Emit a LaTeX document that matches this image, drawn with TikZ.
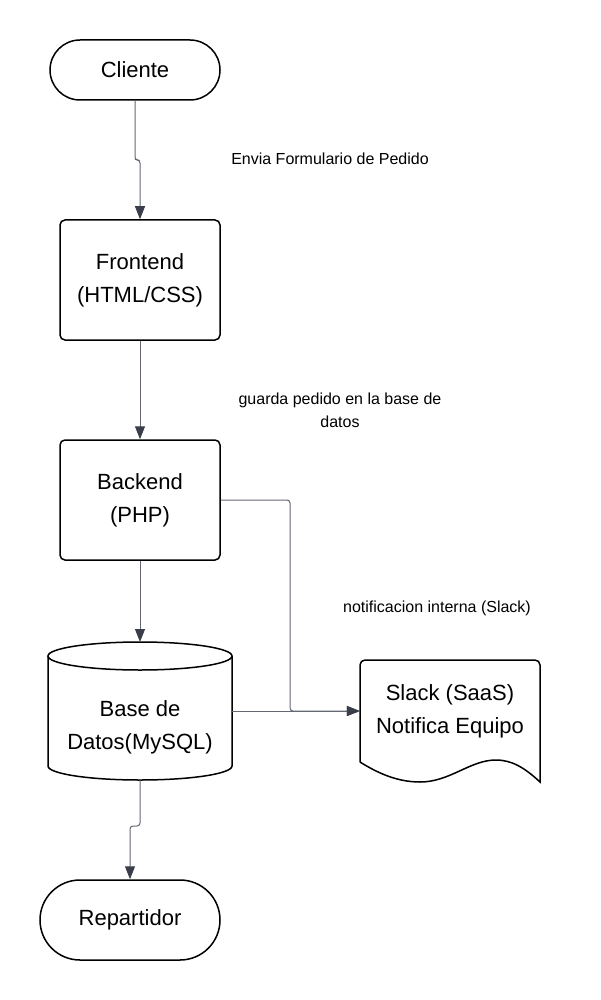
\documentclass[tikz,border=0pt]{standalone}
\usepackage{fontspec}
\setmainfont{Liberation Sans}
\usetikzlibrary{arrows.meta, calc, positioning}
\definecolor{linkgray}{RGB}{100,104,114}
\definecolor{tipgray}{RGB}{58,62,74}
\tikzset{box/.style = {draw=black, line width=1.5pt, rounded corners=5pt, minimum width=160pt, minimum height=120pt, align=center, font=\fontsize{22}{33}\selectfont}}
\tikzset{terminal/.style = {draw=black, line width=1.5pt, rounded corners=30pt, minimum width=170pt, minimum height=60pt, font=\fontsize{22}{33}\selectfont}}
\tikzset{bodytext/.style = {align=center, font=\fontsize{22}{33}\selectfont}}
\tikzset{note/.style = {align=center, font=\fontsize{16}{23}\selectfont}}
\tikzset{flow/.style = {draw=linkgray, line width=1pt, rounded corners=3pt, -{Triangle[length=13pt,width=10pt,color=tipgray]}}}
\newcommand{\shapeline}{line width=1.5pt}

\begin{document}
\begin{tikzpicture}[x=1pt, y=-1pt]
	\useasboundingbox (0,0) rectangle (600,1000);
	
	\node[terminal] (cliente) at (135,70) {Cliente};
	\node[box] (frontend) at (140,280) {Frontend\\(HTML/CSS)};
	\node[box] (backend) at (140,500) {Backend\\(PHP)};
	\node[bodytext] (db) at (140,727) {Base de\\Datos(MySQL)};
	\node[bodytext, minimum width=180pt] (slack) at (450,711) {Slack (SaaS)\\Notifica Equipo};
	\node[terminal, minimum width=180pt, minimum height=80pt, rounded corners=40pt] (repartidor) at (130,920) {Repartidor};
	
	\draw[line width=1.5pt] (140,656) ellipse[x radius=92pt, y radius=14pt];
	\draw[line width=1.5pt] (48,656) -- (48,766) arc[start angle=180, end angle=360, x radius=92pt, y radius=14pt] -- (232,656);
	\draw[line width=1.5pt] (360,762) [rounded corners=5pt] -- (360,660) -- (540,660) -- (540,700) [sharp corners] -- (540,782)
		.. controls (525,768) and (512,760) .. (496,760)
		.. controls (470,760) and (450,782) .. (420,782)
		.. controls (396,782) and (376,772) .. (360,762);
	
	\coordinate (dbtop) at (140,642);
	\coordinate (dbright) at (232,711);
	\coordinate (dbbottom) at (140,780);
	\coordinate (bend) at (290,711);
	
	\draw[flow] (cliente.south) -- (135,160) -- (140,160) -- (frontend.north);
	\draw[flow] (frontend.south) -- (backend.north);
	\draw[flow] (backend.south) -- (dbtop);
	\draw[flow] (backend.east) -| (bend) -- (slack.west);
	\draw[flow] (dbright) -- (slack.west);
	\draw[flow] (dbbottom) -- (140,826) -- (130,826) -- (repartidor.north);
	
	\node[note] (envia) at (330,159) {Envia Formulario de Pedido};
	\node[note] (guarda) at (340,410) {guarda pedido en la base de\\datos};
	\node[note] (notif) at (437,608) {notificacion interna (Slack)};
\end{tikzpicture}
\end{document}
